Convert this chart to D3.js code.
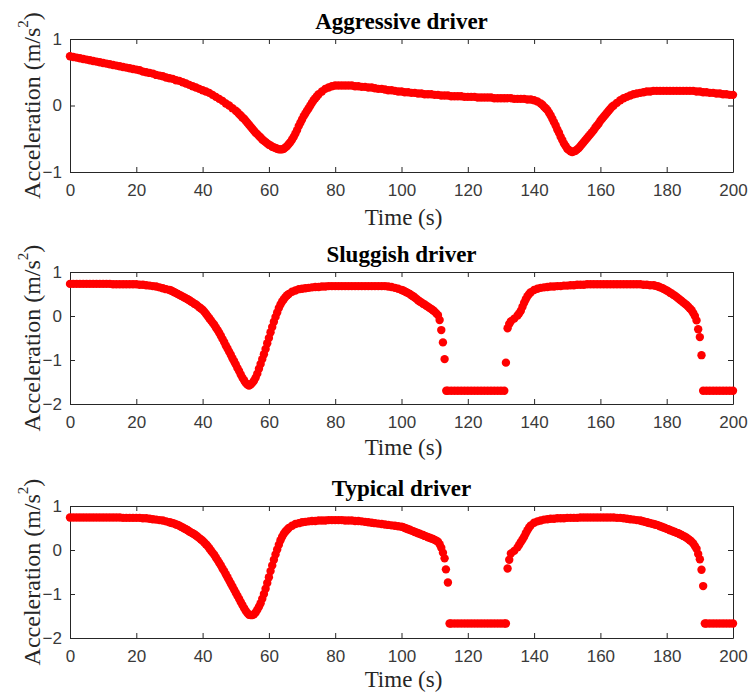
<!DOCTYPE html>
<html><head><meta charset="utf-8">
<script src="https://cdn.jsdelivr.net/npm/d3@7"></script>
<style>body{margin:0;background:#fff}</style>
</head><body><svg id="chart" width="750" height="697"></svg>
<script>
// ---------- data ----------
const titles = ["Aggressive driver", "Sluggish driver", "Typical driver"];
const xTickValues = [0, 20, 40, 60, 80, 100, 120, 140, 160, 180, 200];
const yTicksAggressive = [-1, 0, 1];
const yTicksOther = [-2, -1, 0, 1];
const timeGrid = d3.range(0, 201, 1); // sampling instants, 1 s

const aggressiveAccel = [
 0.74,0.73,0.72,0.71,0.70,0.69,0.68,0.67,0.66,0.65,
 0.64,0.63,0.62,0.61,0.60,0.59,0.58,0.57,0.56,0.55,
 0.54,0.53,0.51,0.50,0.49,0.48,0.46,0.45,0.44,0.42,
 0.41,0.40,0.38,0.37,0.35,0.33,0.31,0.29,0.27,0.25,
 0.23,0.21,0.19,0.16,0.13,0.10,0.07,0.03,0.00,-0.04,
 -0.08,-0.13,-0.18,-0.23,-0.29,-0.35,-0.41,-0.46,-0.51,-0.55,
 -0.59,-0.62,-0.64,-0.66,-0.66,-0.63,-0.58,-0.51,-0.42,-0.31,
 -0.21,-0.12,-0.04,0.04,0.11,0.17,0.21,0.25,0.27,0.29,
 0.30,0.30,0.30,0.30,0.30,0.30,0.29,0.29,0.28,0.28,
 0.27,0.27,0.26,0.25,0.25,0.24,0.23,0.23,0.22,0.21,
 0.21,0.20,0.20,0.19,0.19,0.18,0.18,0.17,0.17,0.17,
 0.16,0.16,0.15,0.15,0.15,0.14,0.14,0.14,0.14,0.13,
 0.13,0.13,0.13,0.12,0.12,0.12,0.12,0.12,0.11,0.11,
 0.11,0.11,0.11,0.11,0.10,0.10,0.10,0.10,0.09,0.09,
 0.08,0.06,0.03,-0.02,-0.07,-0.15,-0.25,-0.36,-0.47,-0.57,
 -0.65,-0.69,-0.69,-0.66,-0.61,-0.55,-0.49,-0.43,-0.37,-0.30,
 -0.23,-0.17,-0.11,-0.05,0.00,0.04,0.08,0.11,0.13,0.15,
 0.17,0.18,0.19,0.20,0.21,0.21,0.22,0.22,0.22,0.22,
 0.22,0.22,0.22,0.22,0.22,0.22,0.22,0.22,0.22,0.21,
 0.21,0.20,0.20,0.19,0.19,0.18,0.18,0.17,0.17,0.16,
 0.16
];
const aggressiveExtraTime = [65.5,66.5,67.5,68.5,69.5,70.5,71.5,144.5,145.5,146.5,147.5,148.5,149.5,150.5,
 50.5,51.5,52.5,53.5,54.5,55.5,56.5,57.5,58.5,59.5,60.5,61.5,62.5,63.5,64.5,72.5,73.5,74.5,
 142.5,143.5,151.5,152.5,153.5,154.5,155.5,156.5,157.5,158.5,159.5,160.5,161.5,162.5,163.5];
const aggressiveExtraAccel = [-0.61,-0.55,-0.47,-0.37,-0.26,-0.16,-0.08,-0.11,-0.20,-0.30,-0.41,-0.52,-0.61,-0.67,
 -0.10,-0.15,-0.20,-0.26,-0.32,-0.38,-0.43,-0.48,-0.53,-0.57,-0.60,-0.63,-0.65,-0.66,-0.65,0.00,0.08,0.14,
 0.01,-0.04,-0.70,-0.68,-0.64,-0.58,-0.52,-0.46,-0.40,-0.33,-0.27,-0.20,-0.14,-0.08,-0.02];

const sluggishAccel = [
 0.73,0.73,0.73,0.73,0.73,0.73,0.73,0.73,0.73,0.73,
 0.73,0.73,0.73,0.72,0.72,0.72,0.72,0.72,0.72,0.72,
 0.72,0.71,0.71,0.70,0.69,0.68,0.67,0.65,0.63,0.61,
 0.59,0.56,0.52,0.48,0.44,0.40,0.36,0.31,0.26,0.20,
 0.14,0.05,-0.05,-0.15,-0.26,-0.38,-0.52,-0.67,-0.81,-0.96,
 -1.10,-1.25,-1.40,-1.52,-1.58,-1.52,-1.40,-1.20,-0.98,-0.75,
 -0.50,-0.25,-0.02,0.18,0.33,0.43,0.50,0.55,0.58,0.61,
 0.62,0.63,0.64,0.65,0.66,0.66,0.67,0.67,0.68,0.68,
 0.68,0.68,0.68,0.68,0.68,0.68,0.68,0.68,0.68,0.68,
 0.68,0.68,0.68,0.68,0.68,0.68,0.67,0.66,0.64,0.62,
 0.59,0.56,0.52,0.47,0.42,0.36,0.31,0.26,0.21,0.16,
 0.10,0.02,-0.32,-0.98,-1.70,-1.70,-1.70,-1.70,-1.70,-1.70,
 -1.70,-1.70,-1.70,-1.70,-1.70,-1.70,-1.70,-1.70,-1.70,-1.70,
 -1.70,-1.70,-0.28,-0.12,-0.06,0.01,0.12,0.30,0.45,0.54,
 0.59,0.62,0.64,0.65,0.66,0.67,0.67,0.68,0.68,0.69,
 0.69,0.70,0.70,0.71,0.71,0.71,0.72,0.72,0.72,0.72,
 0.72,0.72,0.72,0.72,0.72,0.72,0.72,0.72,0.72,0.72,
 0.72,0.72,0.72,0.71,0.71,0.70,0.70,0.68,0.65,0.62,
 0.58,0.53,0.48,0.43,0.37,0.31,0.25,0.17,0.07,-0.10,
 -0.48,-1.70,-1.70,-1.70,-1.70,-1.70,-1.70,-1.70,-1.70,-1.70,
 -1.70
];
const sluggishExtraTime = [40.5,41.5,42.5,43.5,44.5,45.5,46.5,47.5,48.5,49.5,50.5,51.5,52.5,53.5,54.5,55.5,56.5,57.5,58.5,59.5,60.5,61.5,62.5,63.5,
 110.5,111.5,112.5,113.5,131.5,132.5,135.5,136.5,137.5,187.5,188.5,189.5,190.5,
 30.5,31.5,32.5,33.5,34.5,35.5,36.5,37.5,38.5,39.5,64.5,65.5,
 100.5,101.5,102.5,103.5,104.5,105.5,106.5,107.5,108.5,109.5,138.5,
 176.5,177.5,178.5,179.5,180.5,181.5,182.5,183.5,184.5,185.5,186.5];
const sluggishExtraAccel = [0.10,0.00,-0.10,-0.20,-0.32,-0.45,-0.59,-0.74,-0.88,-1.03,-1.18,-1.33,-1.46,-1.56,-1.56,-1.47,-1.31,-1.09,-0.87,-0.62,-0.37,-0.13,0.08,0.26,
 0.06,-0.09,-0.60,-1.70,-1.06,-0.18,0.06,0.21,0.38,0.13,0.00,-0.30,-0.89,
 0.58,0.54,0.50,0.46,0.42,0.38,0.33,0.28,0.23,0.17,0.38,0.47,
 0.58,0.54,0.50,0.45,0.39,0.33,0.28,0.23,0.18,0.13,0.50,
 0.69,0.67,0.64,0.60,0.56,0.51,0.46,0.40,0.34,0.28,0.21];

const typicalAccel = [
 0.74,0.74,0.74,0.74,0.74,0.74,0.74,0.74,0.74,0.74,
 0.74,0.74,0.74,0.74,0.74,0.74,0.73,0.73,0.73,0.73,
 0.73,0.73,0.72,0.72,0.71,0.70,0.69,0.68,0.67,0.65,
 0.63,0.61,0.58,0.55,0.51,0.47,0.42,0.38,0.33,0.27,
 0.21,0.13,0.04,-0.06,-0.17,-0.29,-0.42,-0.55,-0.69,-0.83,
 -0.97,-1.11,-1.25,-1.38,-1.47,-1.48,-1.42,-1.29,-1.11,-0.88,
 -0.62,-0.35,-0.10,0.12,0.30,0.42,0.50,0.55,0.59,0.61,
 0.63,0.64,0.65,0.66,0.66,0.67,0.67,0.67,0.68,0.68,
 0.68,0.68,0.68,0.67,0.67,0.67,0.66,0.66,0.65,0.64,
 0.63,0.62,0.61,0.60,0.59,0.58,0.57,0.56,0.55,0.54,
 0.53,0.50,0.47,0.44,0.41,0.38,0.35,0.32,0.29,0.26,
 0.23,0.19,0.05,-0.19,-0.74,-1.67,-1.67,-1.67,-1.67,-1.67,
 -1.67,-1.67,-1.67,-1.67,-1.67,-1.67,-1.67,-1.67,-1.67,-1.67,
 -1.67,-1.67,-0.42,-0.08,-0.02,0.06,0.18,0.30,0.45,0.56,
 0.62,0.65,0.67,0.69,0.70,0.71,0.71,0.72,0.72,0.72,
 0.73,0.73,0.73,0.73,0.74,0.74,0.74,0.74,0.74,0.74,
 0.74,0.74,0.74,0.74,0.74,0.73,0.73,0.72,0.71,0.70,
 0.69,0.68,0.67,0.65,0.63,0.61,0.59,0.57,0.54,0.51,
 0.48,0.45,0.42,0.39,0.36,0.32,0.28,0.22,0.15,0.03,
 -0.21,-0.82,-1.67,-1.67,-1.67,-1.67,-1.67,-1.67,-1.67,-1.67,
 -1.67
];
const typicalExtraTime = [40.5,41.5,42.5,43.5,44.5,45.5,46.5,47.5,48.5,49.5,50.5,51.5,52.5,53.5,54.5,55.5,56.5,57.5,58.5,59.5,60.5,61.5,62.5,63.5,
 111.5,112.5,113.4,114.5,131.5,132.5,135.5,136.5,137.5,188.5,189.5,190.5,191.5,
 30.5,31.5,32.5,33.5,34.5,35.5,36.5,37.5,38.5,39.5,64.5,65.5,
 100.5,101.5,102.5,103.5,104.5,105.5,106.5,107.5,108.5,109.5,110.5,138.5,
 172.5,173.5,174.5,175.5,176.5,177.5,178.5,179.5,180.5,181.5,182.5,183.5,184.5,185.5,186.5,187.5];
const typicalExtraAccel = [0.17,0.09,-0.01,-0.11,-0.23,-0.35,-0.48,-0.62,-0.76,-0.90,-1.04,-1.18,-1.32,-1.43,-1.48,-1.46,-1.36,-1.21,-1.00,-0.75,-0.48,-0.22,0.01,0.22,
 0.13,-0.06,-0.44,-1.67,-1.67,-0.22,0.12,0.24,0.38,0.09,-0.09,-0.45,-1.67,
 0.62,0.60,0.57,0.53,0.49,0.45,0.40,0.36,0.30,0.24,0.37,0.46,
 0.52,0.49,0.46,0.43,0.40,0.37,0.34,0.31,0.28,0.25,0.21,0.51,
 0.66,0.64,0.62,0.60,0.58,0.56,0.53,0.50,0.47,0.44,0.41,0.38,0.34,0.30,0.25,0.19];

// ---------- layout ----------
const left = 70, right = 733;
const panels = [
  {title: titles[0], accel: aggressiveAccel, et: aggressiveExtraTime, ea: aggressiveExtraAccel, yDomain: [-1, 1], yTicks: yTicksAggressive, top: 39, bottom: 172, labelGap: 53},
  {title: titles[1], accel: sluggishAccel, et: sluggishExtraTime, ea: sluggishExtraAccel, yDomain: [-2, 1], yTicks: yTicksOther, top: 272, bottom: 404, labelGap: 51},
  {title: titles[2], accel: typicalAccel, et: typicalExtraTime, ea: typicalExtraAccel, yDomain: [-2, 1], yTicks: yTicksOther, top: 506, bottom: 638, labelGap: 49}
];

const svg = d3.select("#chart");
svg.append("rect").attr("width", 750).attr("height", 697).attr("fill", "#fff");

const axisColor = "#262626";
const tickFont = "'Liberation Sans', Arial, sans-serif";
const serif = "'Liberation Serif', 'Times New Roman', serif";

panels.forEach(p => {
  const x = d3.scaleLinear().domain([0, 200]).range([left, right]);
  const y = d3.scaleLinear().domain(p.yDomain).range([p.bottom, p.top]);
  const g = svg.append("g");

  const styleAxis = sel => {
    sel.select(".domain").attr("stroke", axisColor).attr("stroke-width", 1);
    sel.selectAll(".tick line").attr("stroke", axisColor).attr("stroke-width", 1);
    sel.selectAll(".tick text").attr("fill", "#3a3a3a").style("font-family", tickFont).style("font-size", "17px");
  };

  g.append("g").attr("transform", `translate(0,${p.bottom})`)
    .call(d3.axisBottom(x).tickValues(xTickValues).tickSizeInner(-5).tickSizeOuter(0).tickPadding(12).tickFormat(d3.format("d")))
    .call(styleAxis);
  g.append("g").attr("transform", `translate(0,${p.top})`)
    .call(d3.axisTop(x).tickValues(xTickValues).tickSizeInner(-5).tickSizeOuter(0).tickFormat(""))
    .call(styleAxis);
  g.append("g").attr("transform", `translate(${left},0)`)
    .call(d3.axisLeft(y).tickValues(p.yTicks).tickSizeInner(-5).tickSizeOuter(0).tickPadding(8).tickFormat(d3.format("d")))
    .call(styleAxis);
  g.append("g").attr("transform", `translate(${right},0)`)
    .call(d3.axisRight(y).tickValues(p.yTicks).tickSizeInner(-5).tickSizeOuter(0).tickFormat(""))
    .call(styleAxis);

  // title
  svg.append("text").attr("x", (left + right) / 2).attr("y", p.top - 10)
    .attr("text-anchor", "middle").attr("fill", "#000")
    .style("font-family", serif).style("font-weight", "bold").style("font-size", "23px")
    .text(p.title);

  // x label
  svg.append("text").attr("x", (left + right) / 2 + 2).attr("y", p.bottom + p.labelGap)
    .attr("text-anchor", "middle").attr("fill", axisColor)
    .style("font-family", serif).style("font-size", "23px")
    .text("Time (s)");

  // y label
  const yl = svg.append("text")
    .attr("transform", `translate(32,${(p.top + p.bottom) / 2}) rotate(-90)`)
    .attr("text-anchor", "middle").attr("dominant-baseline", "central").attr("fill", axisColor)
    .style("font-family", serif).style("font-size", "24px");
  yl.append("tspan").text("Acceleration (m/s");
  yl.append("tspan").attr("dy", -9).style("font-size", "15px").text("2");
  yl.append("tspan").attr("dy", 9).text(")");

  // data points
  const pts = timeGrid.map((t, i) => ({t, a: p.accel[i]}))
    .concat(p.et.map((t, i) => ({t, a: p.ea[i]})))
    .sort((a, b) => a.t - b.t);
  svg.append("g").selectAll("circle").data(pts).join("circle")
    .attr("cx", d => x(d.t)).attr("cy", d => y(d.a)).attr("r", 4.2)
    .attr("fill", "#ff0000");
});
</script>
</body></html>
